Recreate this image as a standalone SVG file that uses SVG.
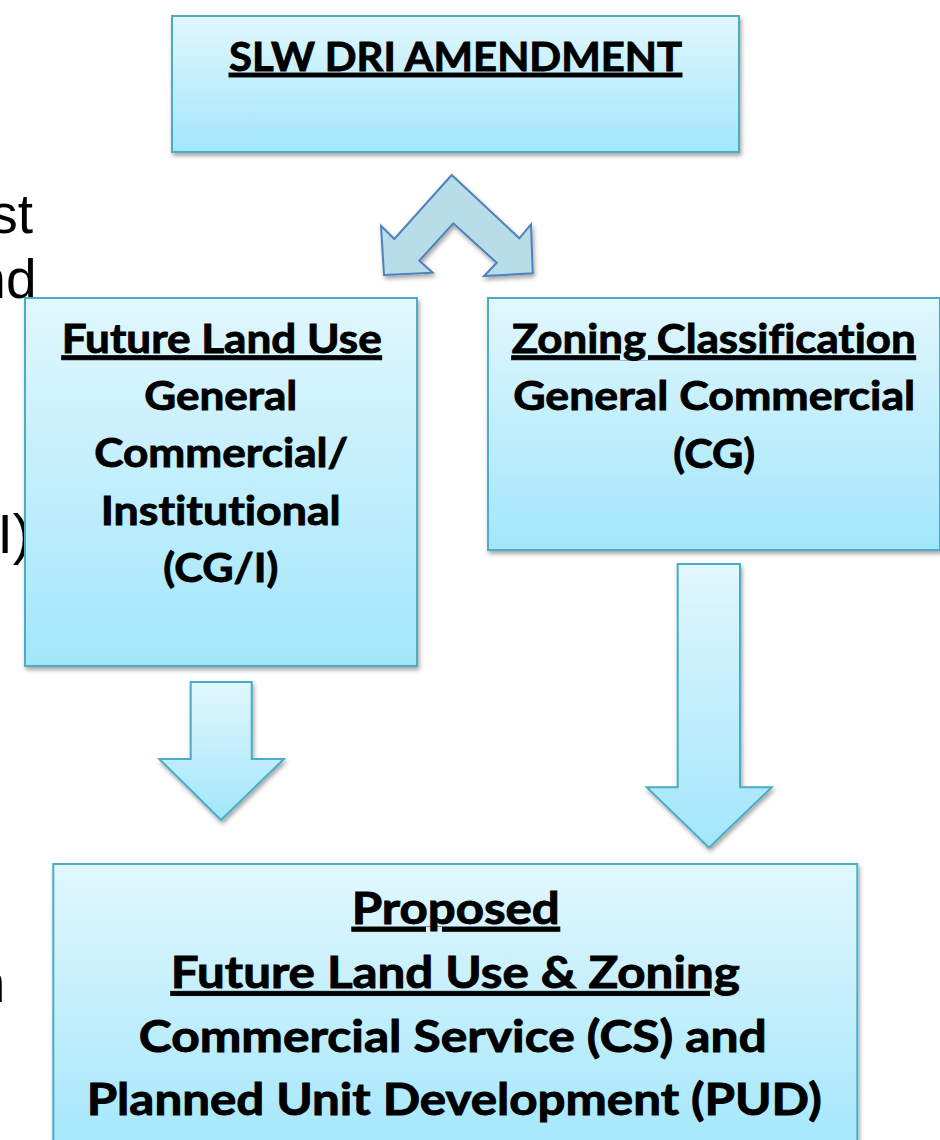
<svg xmlns="http://www.w3.org/2000/svg" width="940" height="1140" viewBox="0 0 940 1140">
  <defs>
    <linearGradient id="boxGrad" x1="0" y1="0" x2="0" y2="1">
      <stop offset="0" stop-color="#e1f7fd"/>
      <stop offset="1" stop-color="#a2e6fb"/>
    </linearGradient>
    <linearGradient id="arrowGrad" x1="0" y1="0" x2="0" y2="1">
      <stop offset="0" stop-color="#e1f7fd"/>
      <stop offset="1" stop-color="#a2e6fb"/>
    </linearGradient>
    <filter id="shadow" x="-10%" y="-10%" width="130%" height="130%">
      <feDropShadow dx="1.5" dy="3" stdDeviation="2.2" flood-color="#000" flood-opacity="0.35"/>
    </filter>
  </defs>
  <style>
    .box { fill: url(#boxGrad); stroke: #4bacc6; stroke-width: 2; filter: url(#shadow); }
    .arrow { fill: url(#arrowGrad); stroke: #4bacc6; stroke-width: 2; stroke-linejoin: miter; filter: url(#shadow); }
    .chevron { fill: #b7dde8; stroke: #4f81bd; stroke-width: 2; stroke-linejoin: miter; filter: url(#shadow); }
    .t { font-family: "Lato", "Open Sans", sans-serif; font-weight: bold; fill: #000; stroke: #000; stroke-width: 0.9; text-anchor: middle; font-variant-ligatures: none; }
    .u { text-decoration: underline; }
    .s40 { font-size: 40px; }
    .s41 { font-size: 41px; }
    .s43 { font-size: 43px; }
    .bg { font-family: "Liberation Sans", Arial, sans-serif; font-size: 55px; fill: #000; }
  </style>

  <!-- background slide text fragments -->
  <g id="background-text">
    <text class="bg" x="33" y="233" text-anchor="end">st</text>
    <text class="bg" x="36.5" y="298" text-anchor="end">nd</text>
    <text class="bg" x="-2.5" y="553">I)</text>
    <text class="bg" x="5.3" y="1002" text-anchor="end">n</text>
  </g>

  <g id="connectors">
    <polygon class="chevron" points="451.7,175 519.3,238.3 531,224.3 532.7,273.3 484,276 496.7,262.7 453.3,223.3 419.3,260.7 432.7,272.7 384,275 381,225.7 394.3,239"/>
    <polygon class="arrow" points="190.7,682 251.7,682 251.7,759 284,759 221,820 159.3,759 190.7,759"/>
    <polygon class="arrow" points="677.7,564 740,564 740,787.3 771.7,787.3 709,847.7 646.7,787.3 677.7,787.3"/>
  </g>

  <g id="node-slw">
    <rect class="box" x="172" y="16" width="567" height="136"/>
    <text class="t s40 u" x="455.5" y="71" textLength="453" lengthAdjust="spacingAndGlyphs">SLW DRI AMENDMENT</text>
  </g>

  <g id="node-flu">
    <rect class="box" x="25" y="298" width="392" height="368"/>
    <text class="t s41 u" x="221.7" y="352.7" textLength="320" lengthAdjust="spacingAndGlyphs">Future Land Use</text>
    <text class="t s41" x="220.7" y="410" textLength="153" lengthAdjust="spacingAndGlyphs">General</text>
    <text class="t s41" x="221.2" y="466.7" textLength="254" lengthAdjust="spacingAndGlyphs">Commercial/</text>
    <text class="t s41" x="220.7" y="525" textLength="240" lengthAdjust="spacingAndGlyphs">Institutional</text>
    <text class="t s41" x="220.8" y="582" textLength="115" lengthAdjust="spacingAndGlyphs">(CG/I)</text>
  </g>

  <g id="node-zoning">
    <rect class="box" x="488" y="298" width="452" height="252"/>
    <text class="t s41 u" x="713.7" y="352.7" textLength="404" lengthAdjust="spacingAndGlyphs">Zoning Classification</text>
    <text class="t s41" x="714.2" y="410" textLength="402" lengthAdjust="spacingAndGlyphs">General Commercial</text>
    <text class="t s41" x="714.2" y="468" textLength="82" lengthAdjust="spacingAndGlyphs">(CG)</text>
  </g>

  <g id="node-proposed">
    <rect class="box" x="53.3" y="864" width="804" height="300"/>
    <text class="t s43 u" x="455.8" y="924" textLength="208" lengthAdjust="spacingAndGlyphs">Proposed</text>
    <text class="t s43 u" x="455.3" y="988.3" textLength="569" lengthAdjust="spacingAndGlyphs">Future Land Use &amp; Zoning</text>
    <text class="t s43" x="452.8" y="1051.7" textLength="628" lengthAdjust="spacingAndGlyphs">Commercial Service (CS) and</text>
    <text class="t s43" x="454.2" y="1115" textLength="735" lengthAdjust="spacingAndGlyphs">Planned Unit Development (PUD)</text>
  </g>
</svg>
